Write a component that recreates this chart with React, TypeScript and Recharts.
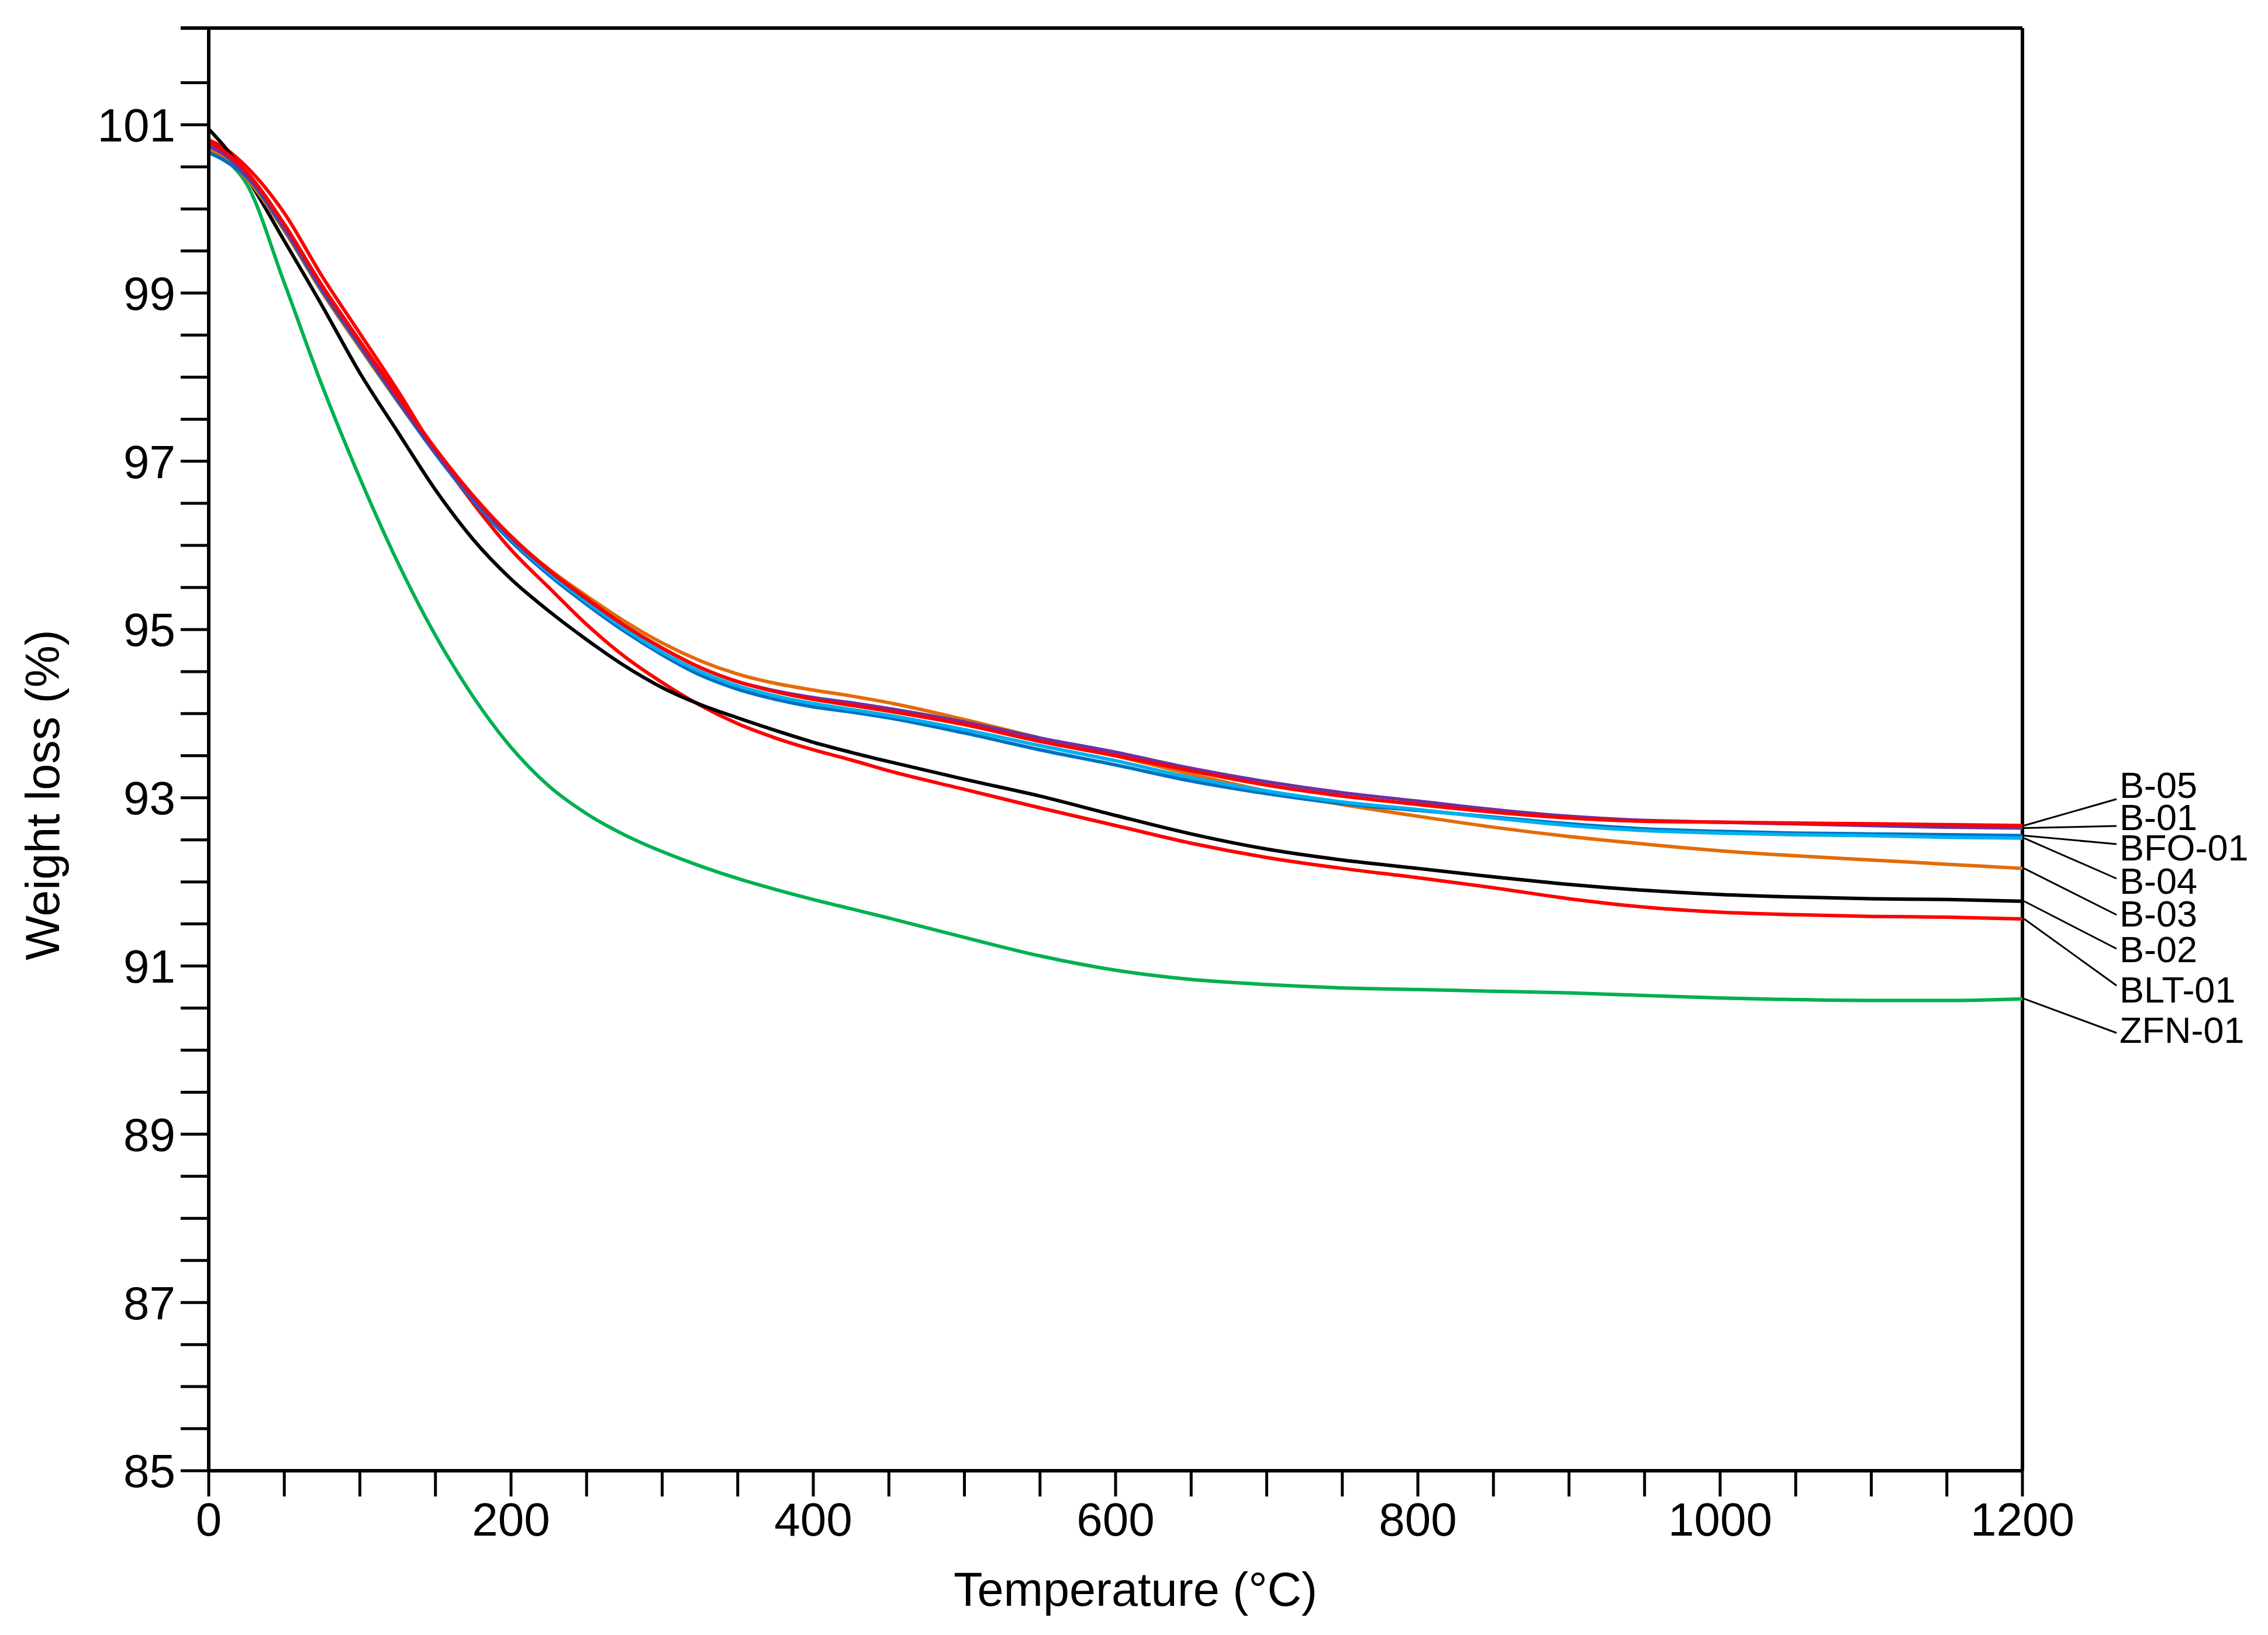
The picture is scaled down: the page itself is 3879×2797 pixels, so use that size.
import { Line, LineChart, ReferenceLine, XAxis, YAxis } from "recharts";

// Temperature grid (°C) shared by every curve
const temperatures = [
  0, 10, 25, 50, 75, 100, 125, 150, 175, 200, 225, 250, 275, 300, 325, 350, 375, 400, 425, 450, 500,
  550, 600, 650, 700, 750, 800, 850, 900, 950, 1000, 1050, 1100, 1150, 1200,
];

// Weight (%)
const b05 = [
  100.8, 100.69, 100.44, 99.82, 99.09, 98.43, 97.78, 97.15, 96.59, 96.11, 95.71, 95.37, 95.05, 94.78,
  94.55, 94.38, 94.26, 94.17, 94.1, 94.03, 93.87, 93.67, 93.5, 93.32, 93.15, 93.02, 92.92, 92.83,
  92.76, 92.72, 92.71, 92.7, 92.69, 92.68, 92.67,
];
const b01 = [
  100.75, 100.65, 100.4, 99.78, 99.05, 98.39, 97.74, 97.11, 96.56, 96.09, 95.7, 95.36, 95.05, 94.78,
  94.55, 94.38, 94.27, 94.19, 94.13, 94.06, 93.9, 93.71, 93.54, 93.35, 93.19, 93.06, 92.96, 92.86,
  92.78, 92.73, 92.71, 92.69, 92.67, 92.65, 92.64,
];
const bfo01 = [
  100.67, 100.58, 100.38, 99.76, 99.03, 98.37, 97.72, 97.09, 96.53, 96.05, 95.65, 95.3, 94.98, 94.7,
  94.46, 94.29, 94.17, 94.08, 94.02, 93.95, 93.77, 93.57, 93.39, 93.2, 93.05, 92.93, 92.85, 92.77,
  92.69, 92.63, 92.6, 92.58, 92.57, 92.56, 92.55,
];
const b04 = [
  100.78, 100.67, 100.42, 99.8, 99.07, 98.41, 97.76, 97.12, 96.56, 96.08, 95.68, 95.33, 95.01, 94.73,
  94.5, 94.33, 94.21, 94.12, 94.05, 93.98, 93.81, 93.62, 93.44, 93.24, 93.08, 92.95, 92.86, 92.76,
  92.67, 92.61, 92.58, 92.56, 92.55, 92.53, 92.52,
];
const b03 = [
  100.7, 100.61, 100.36, 99.74, 99.01, 98.35, 97.71, 97.1, 96.56, 96.1, 95.72, 95.4, 95.1, 94.84,
  94.63, 94.47, 94.36, 94.28, 94.21, 94.13, 93.93, 93.71, 93.5, 93.28, 93.08, 92.92, 92.78, 92.65,
  92.54, 92.45, 92.37, 92.31, 92.26, 92.21, 92.16,
];
const b02 = [
  100.95, 100.75, 100.38, 99.62, 98.85, 98.05, 97.35, 96.66, 96.07, 95.6, 95.22, 94.88, 94.57, 94.31,
  94.11, 93.95, 93.8, 93.66, 93.54, 93.43, 93.22, 93.02, 92.79, 92.57, 92.39, 92.26, 92.16, 92.06,
  91.97, 91.9, 91.85, 91.82, 91.8, 91.79, 91.77,
];
const blt01 = [
  100.82, 100.73, 100.5, 99.95, 99.2, 98.52, 97.84, 97.12, 96.5, 95.95, 95.5, 95.06, 94.68, 94.37,
  94.1, 93.88, 93.71, 93.57, 93.45, 93.32, 93.1, 92.88, 92.67, 92.46, 92.29, 92.16, 92.05, 91.93,
  91.8, 91.7, 91.64, 91.61, 91.59, 91.58, 91.56,
];
const zfn01 = [
  100.72, 100.6, 100.3, 99.12, 97.9, 96.8, 95.8, 94.93, 94.2, 93.6, 93.14, 92.81, 92.56, 92.36,
  92.19, 92.04, 91.91, 91.79, 91.68, 91.57, 91.34, 91.12, 90.95, 90.84, 90.78, 90.74, 90.72, 90.7,
  90.68, 90.65, 90.62, 90.6, 90.59, 90.59, 90.61,
];

// drawing order, bottom first
const seriesNames = ["ZFN-01", "BLT-01", "B-02", "B-03", "BFO-01", "B-04", "B-01", "B-05"];
const seriesValues: Record<string, number[]> = {
  "ZFN-01": zfn01,
  "BLT-01": blt01,
  "B-02": b02,
  "B-03": b03,
  "BFO-01": bfo01,
  "B-04": b04,
  "B-01": b01,
  "B-05": b05,
};

const xTicks = [
  0, 50, 100, 150, 200, 250, 300, 350, 400, 450, 500, 550, 600, 650, 700, 750, 800, 850, 900, 950,
  1000, 1050, 1100, 1150, 1200,
];
const xTickLabels = ["0", "200", "400", "600", "800", "1000", "1200"];
const yTicks = [
  85, 85.5, 86, 86.5, 87, 87.5, 88, 88.5, 89, 89.5, 90, 90.5, 91, 91.5, 92, 92.5, 93, 93.5, 94,
  94.5, 95, 95.5, 96, 96.5, 97, 97.5, 98, 98.5, 99, 99.5, 100, 100.5, 101, 101.5,
];
const yTickLabels = ["85", "87", "89", "91", "93", "95", "97", "99", "101"];

const colors: Record<string, string> = {
  "ZFN-01": "#00B050",
  "BLT-01": "#FF0000",
  "B-02": "#000000",
  "B-03": "#E36C09",
  "BFO-01": "#0070C0",
  "B-04": "#00B0F0",
  "B-01": "#7030A0",
  "B-05": "#FF0000",
};

// where the curve names sit to the right of the frame
const LABEL_X = 3625;
const LEADER_END_X = 3620;
const labelLayout: Record<string, { baseline: number; lineY: number }> = {
  "B-05": { baseline: 1365, lineY: 1367 },
  "B-01": { baseline: 1420, lineY: 1413 },
  "BFO-01": { baseline: 1472, lineY: 1444 },
  "B-04": { baseline: 1529, lineY: 1503 },
  "B-03": { baseline: 1585, lineY: 1565 },
  "B-02": { baseline: 1646, lineY: 1623 },
  "BLT-01": { baseline: 1715, lineY: 1686 },
  "ZFN-01": { baseline: 1784, lineY: 1767 },
};

const rows = temperatures.map((t, i) => {
  const row: Record<string, number> = { t };
  seriesNames.forEach((name) => {
    row[name] = seriesValues[name][i];
  });
  return row;
});

const endLabel = (name: string) => (props: any) => {
  const { cx, cy, index } = props;
  if (index !== temperatures.length - 1) return <g key={`dot-${name}-${index}`} />;
  const pos = labelLayout[name];
  return (
    <g key={`label-${name}`}>
      <line x1={cx + 3} y1={cy} x2={LEADER_END_X} y2={pos.lineY} stroke="#000" strokeWidth={3} />
      <text x={LABEL_X} y={pos.baseline} fontSize={63} fill="#000">
        {name}
      </text>
    </g>
  );
};

const axisLine = { stroke: "#000", strokeWidth: 6 };
const tickLine = { stroke: "#000", strokeWidth: 5 };

export default function App() {
  return (
    <div
      style={{
        position: "absolute",
        left: 0,
        top: 0,
        width: 3879,
        height: 2797,
        background: "#fff",
        fontFamily: "'Liberation Sans', Arial, sans-serif",
      }}
    >
      <LineChart width={3879} height={2797} data={rows} margin={{ top: 48, right: 420, bottom: 0, left: 0 }}>
        <XAxis
          dataKey="t"
          type="number"
          domain={[0, 1200]}
          ticks={xTicks}
          interval={0}
          tickFormatter={(v: number) => (xTickLabels.includes(String(v)) ? String(v) : "")}
          height={281}
          tickSize={44}
          tickMargin={10}
          axisLine={axisLine}
          tickLine={tickLine}
          tick={{ fontSize: 80, fill: "#000" }}
          label={{
            content: () => (
              <text x={1942} y={2747} textAnchor="middle" fontSize={81} fill="#000">
                Temperature (°C)
              </text>
            ),
          }}
        />
        <YAxis
          type="number"
          domain={[85, 102.15]}
          ticks={yTicks}
          interval={0}
          tickFormatter={(v: number) => (yTickLabels.includes(String(v)) ? String(v) : "")}
          width={357}
          tickSize={48}
          tickMargin={9}
          axisLine={axisLine}
          tickLine={tickLine}
          tick={{ fontSize: 80, fill: "#000" }}
          label={{
            content: () => (
              <text
                x={101}
                y={1360}
                transform="rotate(-90 101 1360)"
                textAnchor="middle"
                fontSize={81}
                fill="#000"
              >
                Weight loss (%)
              </text>
            ),
          }}
        />
        <ReferenceLine x={1200} stroke="#000" strokeWidth={6} ifOverflow="visible" />
        <ReferenceLine
          segment={[
            { x: -18.6, y: 102.15 },
            { x: 1200, y: 102.15 },
          ]}
          stroke="#000"
          strokeWidth={6}
          ifOverflow="visible"
        />
        {seriesNames.map((name) => (
          <Line
            key={name}
            type="monotone"
            dataKey={name}
            stroke={colors[name]}
            strokeWidth={6}
            dot={endLabel(name)}
            activeDot={false}
            isAnimationActive={false}
          />
        ))}
      </LineChart>
    </div>
  );
}
